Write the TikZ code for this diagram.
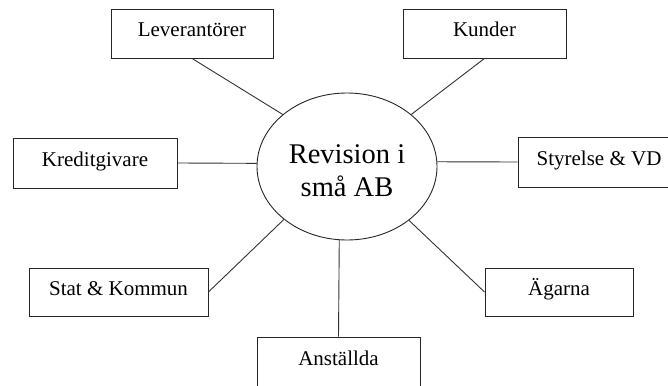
\documentclass[tikz,border=0pt]{standalone}
\usepackage{fontspec}
\setmainfont{Liberation Serif}
\usetikzlibrary{shapes.geometric}
\tikzset{
  boxnode/.style={draw=black!85, line width=0.9pt, rectangle, inner sep=0pt,
    font=\fontsize{21}{24}\selectfont, text height=13pt, text depth=7pt},
  link/.style={draw=black!80, line width=0.9pt},
}
\begin{document}
\begin{tikzpicture}[x=1pt,y=-1pt]
\useasboundingbox (0,0) rectangle (668,385);
\clip (0,0) rectangle (668,385);
\node[draw=black!85, line width=0.9pt, ellipse, inner sep=0pt, minimum width=180, minimum height=147] (ell) at (347,166.5) {};
\node[align=center, font=\fontsize{28.5}{33}\selectfont, inner sep=0pt] (lbl) at ([yshift=-4.5pt]ell.center) {Revision i\\små AB};
\node[boxnode, minimum width=162, minimum height=49] (lev) at (192,33.5) {Leverantörer};
\node[boxnode, minimum width=163, minimum height=49] (kund) at (484.5,33.5) {Kunder};
\node[boxnode, minimum width=164, minimum height=50] (kred) at (95,163) {Kreditgivare};
\node[boxnode, minimum width=162, minimum height=50] (sty) at (599,162) {Styrelse \& VD};
\node[boxnode, minimum width=179, minimum height=48] (stat) at (118.5,292) {Stat \& Kommun};
\node[boxnode, minimum width=148, minimum height=48] (ag) at (559,292) {Ägarna};
\node[boxnode, minimum width=163, minimum height=50] (anst) at (338.5,362) {Anställda};
\draw[link] (lev.south) -- (ell.141.5);
\draw[link] (kund.south) -- (ell.39);
\draw[link] (kred.east) -- (ell.178);
\draw[link] (sty.west) -- (ell.3);
\draw[link] (stat.east) -- (ell.220);
\draw[link] (ag.west) -- (ell.319.5);
\draw[link] (anst.north) -- (ell.264);
\end{tikzpicture}
\end{document}
